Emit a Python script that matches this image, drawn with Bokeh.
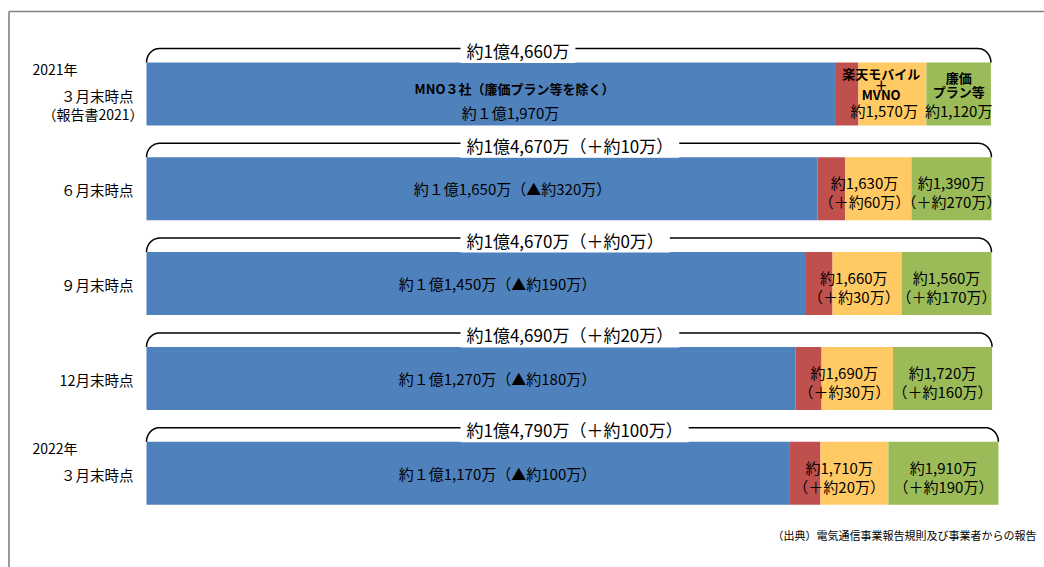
import numpy as np
from bokeh.plotting import figure
from bokeh.models import Range1d, ColumnDataSource
from bokeh.core.properties import value
from bokeh.embed import file_html
from bokeh.resources import INLINE

# ---------------- data ----------------
period_year = ["2021年", "", "", "", "2022年"]
period_label = ["３月末時点", "６月末時点", "９月末時点", "12月末時点", "３月末時点"]
period_note = ["（報告書2021）", "", "", "", ""]

mno = [11970, 11650, 11450, 11270, 11170]          # MNO3社（廉価プラン等を除く）
rakuten = [390, 480, 460, 450, 530]                 # 楽天モバイル (estimated split)
mvno = [1180, 1150, 1200, 1240, 1180]               # MVNO (estimated split)
cheap = [1120, 1390, 1560, 1720, 1910]              # 廉価プラン等

total_label = ["約1億4,660万", "約1億4,670万（＋約10万）", "約1億4,670万（＋約0万）",
               "約1億4,690万（＋約20万）", "約1億4,790万（＋約100万）"]
mno_label = ["約１億1,970万", "約１億1,650万（▲約320万）", "約１億1,450万（▲約190万）",
             "約１億1,270万（▲約180万）", "約１億1,170万（▲約100万）"]
rm_label1 = ["約1,570万", "約1,630万", "約1,660万", "約1,690万", "約1,710万"]
rm_label2 = ["", "（＋約60万）", "（＋約30万）", "（＋約30万）", "（＋約20万）"]
cheap_label1 = ["約1,120万", "約1,390万", "約1,560万", "約1,720万", "約1,910万"]
cheap_label2 = ["", "（＋約270万）", "（＋約170万）", "（＋約160万）", "（＋約190万）"]
mno_title = "MNO３社（廉価プラン等を除く）"
rm_title = ["楽天モバイル", "＋", "MVNO"]
cheap_title = ["廉価", "プラン等"]
source_text = "（出典）電気通信事業報告規則及び事業者からの報告"

# ---------------- layout ----------------
W, H = 1044, 567
PX = 0.0576          # pixels per 万
X0 = 146             # canvas x of value 0
ROW = 94.8           # pixels between rows
Y0 = 93.5            # canvas y of first row centre
BAR_PX = 63
FONT = value("Noto Sans CJK JP")

def xpage(px):
    return (px - X0) / PX

def ypage(py):
    return (py - Y0) / ROW

def dy(px):
    return px / ROW

def dx(px):
    return px / PX

x_start, x_end = xpage(0), xpage(W)
y_top, y_bot = ypage(0), ypage(H)

p = figure(width=W, height=H, x_range=Range1d(x_start, x_end), y_range=Range1d(y_bot, y_top),
           output_backend="svg", toolbar_location=None, min_border=0,
           x_axis_location=None, y_axis_location=None)
p.grid.visible = False
p.outline_line_color = None
p.background_fill_color = "white"
p.border_fill_color = "white"

rows = np.arange(len(mno))
mno_a, rak_a, mv_a, ch_a = map(np.array, (mno, rakuten, mvno, cheap))
c1 = mno_a
c2 = c1 + rak_a
c3 = c2 + mv_a
c4 = c3 + ch_a

colors = ["#4F81BD", "#C0504D", "#FFCA64", "#9BBB59"]
for left, right, col in [(np.zeros_like(c1), c1, colors[0]), (c1, c2, colors[1]),
                         (c2, c3, colors[2]), (c3, c4, colors[3])]:
    p.hbar(y=rows, left=left, right=right, height=dy(BAR_PX), fill_color=col, line_color=None)

# frame lines
fx = xpage(8.5)
fy = ypage(11)
p.segment(x0=[fx, fx], y0=[fy, fy], x1=[fx, x_end], y1=[y_bot, fy], line_color="#808080", line_width=1.6)

# brackets
rx, ry = dx(13), dy(14)
t = np.linspace(0, np.pi / 2, 12)
xs, ys = [], []
for i in rows:
    top = i - dy(BAR_PX / 2)
    tot = c4[i]
    lx = rx - rx * np.cos(t)
    ly = top - ry * np.sin(t)
    rxp = tot - rx + rx * np.cos(t[::-1])
    ryp = top - ry * np.sin(t[::-1])
    xs.append(list(lx) + list(rxp))
    ys.append(list(ly) + list(ryp))
p.multi_line(xs=xs, ys=ys, line_color="black", line_width=1.5)

bt = ColumnDataSource(dict(x=[xpage(460)] * len(rows),
                           y=[i - dy(BAR_PX / 2) - ry + dy(2) for i in rows],
                           t=total_label))
p.text(x="x", y="y", text="t", source=bt, text_font=FONT, text_font_size="17px",
       text_align="left", text_baseline="middle", text_color="black",
       background_fill_color="white",
       padding=dict(left=6, right=6, top=0, bottom=0))

def label(xv, yv, txt, size="14.5px", bold=False, align="center"):
    p.text(x=list(xv), y=list(yv), text=list(txt), text_font=FONT, text_font_size=size,
           text_font_style="bold" if bold else "normal", text_align=align,
           text_baseline="middle", text_color="black")

# MNO labels
mno_x_px = [510, 512, 497, 497, 497]
label([xpage(514)], [0 - dy(6)], [mno_title], size="13px", bold=True)
label([xpage(mno_x_px[0])], [0 + dy(18.5)], [mno_label[0]], size="15px")
label([xpage(v) for v in mno_x_px[1:]], [i for i in rows[1:]], mno_label[1:], size="15px")

# Rakuten + MVNO labels
rm_x = (c1 + c3) / 2
label([rm_x[0]] * 3, [dy(-20.5), dy(-10), dy(0.5)], rm_title, size="13px", bold=True)
label([rm_x[0] + dx(3)], [dy(16.5)], [rm_label1[0]], size="15px")
label(rm_x[1:], [i - dy(6) for i in rows[1:]], rm_label1[1:], size="15px")
label(rm_x[1:], [i + dy(13) for i in rows[1:]], rm_label2[1:], size="15px")

# cheap plan labels
ch_x = (c3 + c4) / 2
label([ch_x[0]] * 2, [dy(-16.5), dy(-2.5)], cheap_title, size="13px", bold=True)
label([ch_x[0]], [dy(16.5)], [cheap_label1[0]], size="15px")
label(ch_x[1:], [i - dy(6) for i in rows[1:]], cheap_label1[1:], size="15px")
label(ch_x[1:], [i + dy(13) for i in rows[1:]], cheap_label2[1:], size="15px")

# period labels
yr_rows = [i for i in rows if period_year[i]]
label([xpage(32)] * len(yr_rows), [i - dy(25) for i in yr_rows], [period_year[i] for i in yr_rows],
      size="14px", align="left")
label([xpage(133)] * len(rows), [i + dy(1) for i in rows], period_label, size="14.5px", align="right")
label([xpage(143)], [0 + dy(20)], [period_note[0]], size="14px", align="right")

# source
label([xpage(772)], [ypage(534)], [source_text], size="11px", align="left")

open("out.html", "w").write(file_html(p, INLINE))
